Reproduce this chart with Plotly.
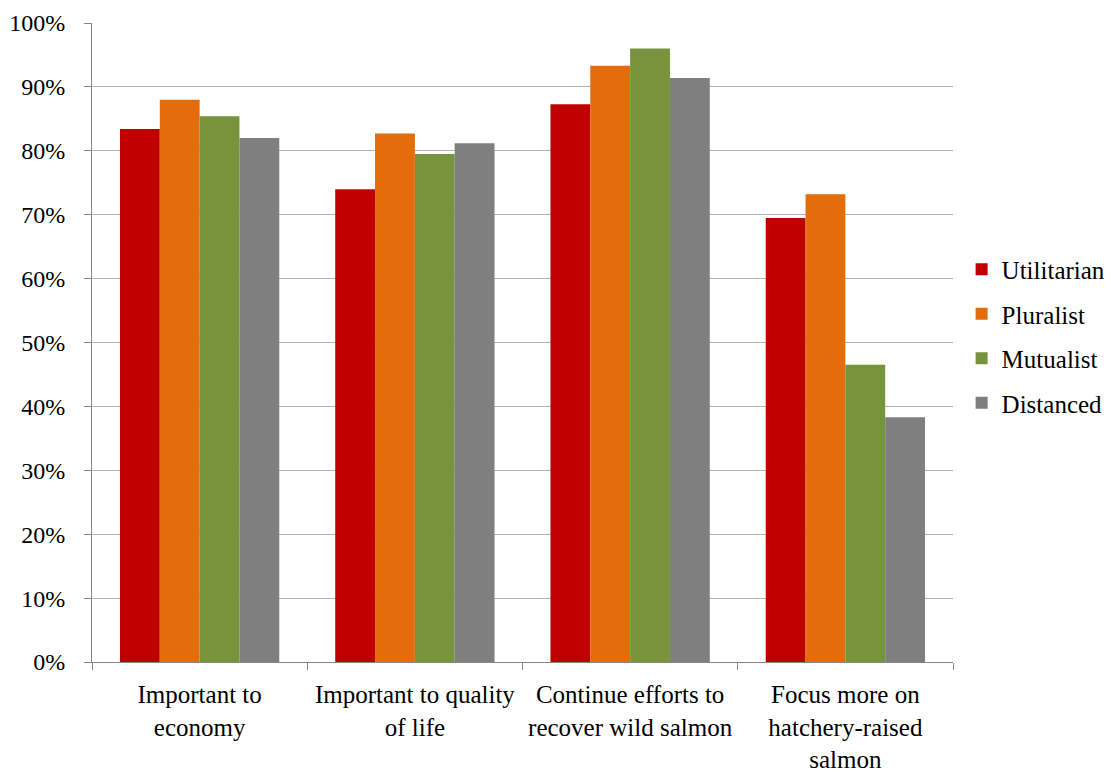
import plotly.graph_objects as go

# Survey statements (x categories) and share agreeing per value orientation
categories = [
    "Important to<br>economy",
    "Important to quality<br>of life",
    "Continue efforts to<br>recover wild salmon",
    "Focus more on<br>hatchery-raised<br>salmon",
]
utilitarian = [0.834, 0.740, 0.873, 0.695]
pluralist = [0.880, 0.827, 0.933, 0.732]
mutualist = [0.854, 0.795, 0.960, 0.465]
distanced = [0.820, 0.812, 0.914, 0.383]

series = [
    ("Utilitarian", utilitarian, "#C00000"),
    ("Pluralist", pluralist, "#E46C0A"),
    ("Mutualist", mutualist, "#77933C"),
    ("Distanced", distanced, "#7F7F7F"),
]

serif = "Times New Roman, Liberation Serif, DejaVu Serif, serif"

fig = go.Figure()
for name, vals, color in series:
    fig.add_trace(go.Bar(
        name=name, x=categories, y=vals,
        legendgroup=name,
        marker=dict(color=color, line=dict(width=0)),
    ))

fig.update_layout(
    width=1111, height=772,
    margin=dict(l=92, r=158, t=23, b=110, autoexpand=False),
    paper_bgcolor="white", plot_bgcolor="white",
    barmode="group", bargap=0.26, bargroupgap=0,
    font=dict(family=serif, size=25, color="black"),
    legend=dict(
        x=1.01, xanchor="left", y=0.51, yanchor="middle",
        font=dict(family=serif, size=25, color="black"),
        itemwidth=30, tracegroupgap=9,
    ),
    showlegend=True,
)
fig.update_yaxes(
    range=[0, 1], dtick=0.1, tickformat=".0%",
    showgrid=True, gridcolor="#B3B3B3", gridwidth=1,
    showline=True, linecolor="#868686", linewidth=1,
    ticks="outside", ticklen=7, tickcolor="#868686",
    ticklabelstandoff=14,
    tickfont=dict(family=serif, size=24, color="black"),
    zeroline=False,
)
fig.update_xaxes(
    showline=True, linecolor="#868686", linewidth=1,
    ticks="outside", ticklen=7, tickcolor="#868686",
    tickson="boundaries",
    tickfont=dict(family=serif, size=25, color="black"),
    ticklabelstandoff=10,
)

fig.write_html("out.html")
